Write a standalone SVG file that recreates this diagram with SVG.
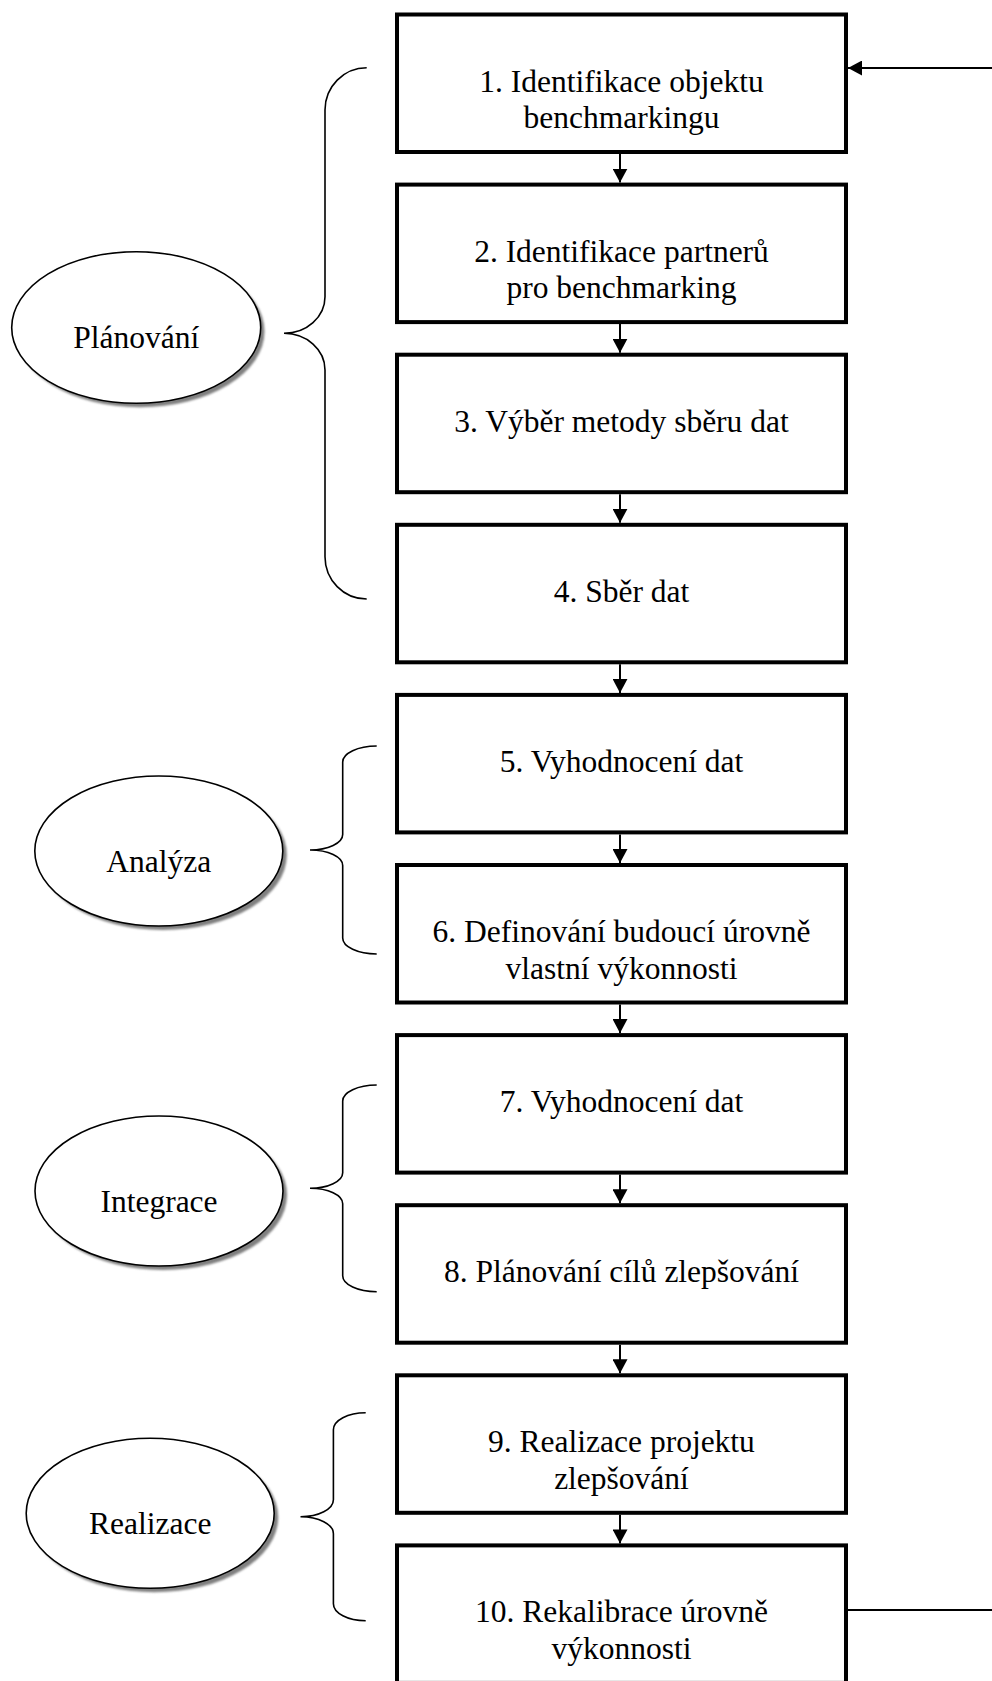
<svg xmlns="http://www.w3.org/2000/svg" width="992" height="1681" viewBox="0 0 992 1681">
  <style>
    .step rect { fill: #ffffff; stroke: #000000; stroke-width: 4; }
    .phase .shadow { fill: #808080; }
    .phase .body { fill: #ffffff; stroke: #000000; stroke-width: 1.6; }
    .lbl { font-family: "Liberation Serif", "Times New Roman", serif; font-size: 31.5px; fill: #000000; text-anchor: middle; }
    .brace { fill: none; stroke: #000000; stroke-width: 1.6; }
    .conn { fill: none; stroke: #000000; stroke-width: 2; }
  </style>
  <defs>
    <marker id="head" markerUnits="userSpaceOnUse" markerWidth="14" markerHeight="15" viewBox="0 0 14 15" refX="14" refY="7.5" orient="auto">
      <path d="M0,0 L14,7.5 L0,15 Z" fill="#000000"/>
    </marker>
    <filter id="soft" x="-10%" y="-10%" width="120%" height="120%">
      <feGaussianBlur stdDeviation="1"/>
    </filter>
  </defs>

  <rect width="992" height="1681" fill="#ffffff"/>

  <!-- connectors -->
  <g id="connectors" class="conn">
    <path d="M620,154 V182.6" marker-end="url(#head)"/>
    <path d="M620,324.1 V352.7" marker-end="url(#head)"/>
    <path d="M620,494.2 V522.8" marker-end="url(#head)"/>
    <path d="M620,664.3 V692.9" marker-end="url(#head)"/>
    <path d="M620,834.4 V863" marker-end="url(#head)"/>
    <path d="M620,1004.5 V1033.1" marker-end="url(#head)"/>
    <path d="M620,1174.6 V1203.2" marker-end="url(#head)"/>
    <path d="M620,1344.7 V1373.3" marker-end="url(#head)"/>
    <path d="M620,1514.8 V1543.4" marker-end="url(#head)"/>
    <!-- feedback loop from step 10 back to step 1 -->
    <path d="M848,1610 H998 V68 H848" marker-end="url(#head)"/>
  </g>

  <!-- process steps -->
  <g id="step1" class="step">
    <rect x="397" y="14.5" width="449" height="137.5"/>
    <text class="lbl" x="621.5" y="91.5">1. Identifikace objektu</text>
    <text class="lbl" x="621.5" y="128.2">benchmarkingu</text>
  </g>
  <g id="step2" class="step">
    <rect x="397" y="184.6" width="449" height="137.5"/>
    <text class="lbl" x="621.5" y="261.6">2. Identifikace partnerů</text>
    <text class="lbl" x="621.5" y="298.3">pro benchmarking</text>
  </g>
  <g id="step3" class="step">
    <rect x="397" y="354.7" width="449" height="137.5"/>
    <text class="lbl" x="621.5" y="431.7">3. Výběr metody sběru dat</text>
  </g>
  <g id="step4" class="step">
    <rect x="397" y="524.8" width="449" height="137.5"/>
    <text class="lbl" x="621.5" y="601.8">4. Sběr dat</text>
  </g>
  <g id="step5" class="step">
    <rect x="397" y="694.9" width="449" height="137.5"/>
    <text class="lbl" x="621.5" y="771.9">5. Vyhodnocení dat</text>
  </g>
  <g id="step6" class="step">
    <rect x="397" y="865" width="449" height="137.5"/>
    <text class="lbl" x="621.5" y="942">6. Definování budoucí úrovně</text>
    <text class="lbl" x="621.5" y="978.7">vlastní výkonnosti</text>
  </g>
  <g id="step7" class="step">
    <rect x="397" y="1035.1" width="449" height="137.5"/>
    <text class="lbl" x="621.5" y="1112.1">7. Vyhodnocení dat</text>
  </g>
  <g id="step8" class="step">
    <rect x="397" y="1205.2" width="449" height="137.5"/>
    <text class="lbl" x="621.5" y="1282.2">8. Plánování cílů zlepšování</text>
  </g>
  <g id="step9" class="step">
    <rect x="397" y="1375.3" width="449" height="137.5"/>
    <text class="lbl" x="621.5" y="1452.3">9. Realizace projektu</text>
    <text class="lbl" x="621.5" y="1489">zlepšování</text>
  </g>
  <g id="step10" class="step">
    <rect x="397" y="1545.4" width="449" height="137.5"/>
    <text class="lbl" x="621.5" y="1622.4">10. Rekalibrace úrovně</text>
    <text class="lbl" x="621.5" y="1659.1">výkonnosti</text>
  </g>

  <!-- phase braces -->
  <g id="brace-planovani">
    <path class="brace" d="M366.7,67.7 A41.7,42.3 0 0 0 325,110 V296.7 A41,36.6 0 0 1 284,333.3 A41,36.6 0 0 1 325,370 V556.6 A41.7,42.3 0 0 0 366.7,599"/>
  </g>
  <g id="brace-analyza">
    <path class="brace" d="M376.7,746 A34,16 0 0 0 342.7,762 V834.5 A32.7,15.5 0 0 1 310,850 A32.7,15.5 0 0 1 342.7,865.5 V938 A34,16 0 0 0 376.7,954"/>
  </g>
  <g id="brace-integrace">
    <path class="brace" d="M376.7,1085 A34,16 0 0 0 342.7,1101 V1172.8 A32.7,15.5 0 0 1 310,1188.3 A32.7,15.5 0 0 1 342.7,1203.8 V1275.7 A34,16 0 0 0 376.7,1291.7"/>
  </g>
  <g id="brace-realizace">
    <path class="brace" d="M365.7,1412.7 A32.3,17 0 0 0 333.4,1429.7 V1499.7 A32.9,17 0 0 1 300.5,1516.7 A32.9,17 0 0 1 333.4,1533.7 V1603.7 A32.3,17 0 0 0 365.7,1620.7"/>
  </g>

  <!-- phases -->
  <g id="phase-planovani" class="phase">
    <ellipse class="shadow" cx="140" cy="331.5" rx="124.5" ry="75.8" filter="url(#soft)"/>
    <ellipse class="body" cx="136.2" cy="327.5" rx="124.5" ry="75.8"/>
    <text class="lbl" x="136.2" y="348.3">Plánování</text>
  </g>
  <g id="phase-analyza" class="phase">
    <ellipse class="shadow" cx="162.8" cy="855" rx="124" ry="75" filter="url(#soft)"/>
    <ellipse class="body" cx="158.8" cy="851" rx="124" ry="75"/>
    <text class="lbl" x="158.8" y="872.3">Analýza</text>
  </g>
  <g id="phase-integrace" class="phase">
    <ellipse class="shadow" cx="163" cy="1195" rx="124" ry="75" filter="url(#soft)"/>
    <ellipse class="body" cx="159" cy="1191" rx="124" ry="75"/>
    <text class="lbl" x="159" y="1211.7">Integrace</text>
  </g>
  <g id="phase-realizace" class="phase">
    <ellipse class="shadow" cx="154.2" cy="1517.3" rx="124" ry="75" filter="url(#soft)"/>
    <ellipse class="body" cx="150.2" cy="1513.3" rx="124" ry="75"/>
    <text class="lbl" x="150.2" y="1534">Realizace</text>
  </g>
</svg>
